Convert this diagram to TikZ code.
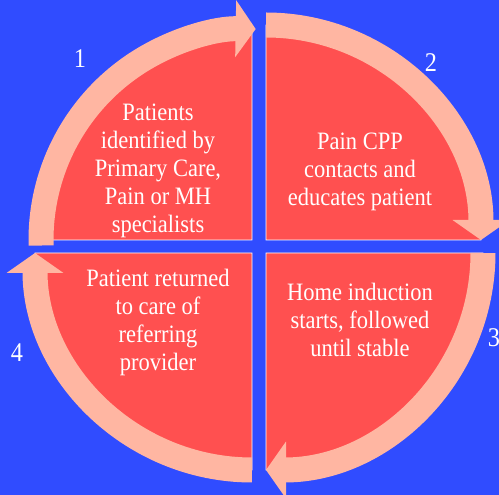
\documentclass[tikz,border=0pt]{standalone}
\usepackage{fontspec}
\setmainfont{Liberation Serif}[FakeStretch=0.9]
\usetikzlibrary{arrows.meta}

\definecolor{bgblue}{RGB}{48,76,255}
\definecolor{stepred}{RGB}{255,80,80}
\definecolor{bandpink}{RGB}{255,182,162}

\begin{document}
\begin{tikzpicture}[x=1pt,y=1pt,
  sector/.style={fill=stepred, draw=white, line width=0.8pt},
  band/.style={draw=bandpink, line width=25pt, -{Triangle[width=56pt,length=20pt]}},
  steptext/.style={text=white, align=center, font=\fontsize{25}{28}\selectfont},
  stepnum/.style={text=white, font=\fontsize{27}{30}\selectfont}
]
    \useasboundingbox (0,0) rectangle (499,495);
    \fill[bgblue] (0,0) rectangle (499,495);

    % centres of the four quarters
    \coordinate (c1) at (252,255);
    \coordinate (c2) at (266,255);
    \coordinate (c3) at (266,242);
    \coordinate (c4) at (252,242);

    \draw[sector] (c1) -- ++(180:211) arc[start angle=180, end angle=90, radius=211] -- cycle;
    \draw[sector] (c2) -- ++(90:215) arc[start angle=90, end angle=0, radius=215] -- cycle;
    \draw[sector] (c3) -- ++(0:217) arc[start angle=0, end angle=-90, radius=217] -- cycle;
    \draw[sector] (c4) -- ++(-90:217) arc[start angle=-90, end angle=-180, radius=217] -- cycle;

    % clockwise arrows round the rim
    \draw[band] (c1) ++(181.5:211) arc[start angle=181.5, end angle=89, radius=211];
    \draw[band] (c2) ++(90:215) arc[start angle=90, end angle=0, radius=215];
    \draw[band] (c3) ++(0:217) arc[start angle=0, end angle=-90, radius=217];
    \draw[band] (c4) ++(-90:217) arc[start angle=-90, end angle=-180, radius=217];

    \node[steptext] (t1) at (158,324) {Patients\\identified by\\Primary Care,\\Pain or MH\\specialists};
    \node[steptext] (t2) at (360,323) {Pain CPP\\contacts and\\educates patient};
    \node[steptext] (t3) at (360,175) {Home induction\\starts, followed\\until stable};
    \node[steptext] (t4) at (158,173) {Patient returned\\to care of\\referring\\provider};

    \node[stepnum] (n1) at (80,436) {1};
    \node[stepnum] (n2) at (431,432) {2};
    \node[stepnum] (n3) at (494,157) {3};
    \node[stepnum] (n4) at (17,142) {4};
\end{tikzpicture}
\end{document}
